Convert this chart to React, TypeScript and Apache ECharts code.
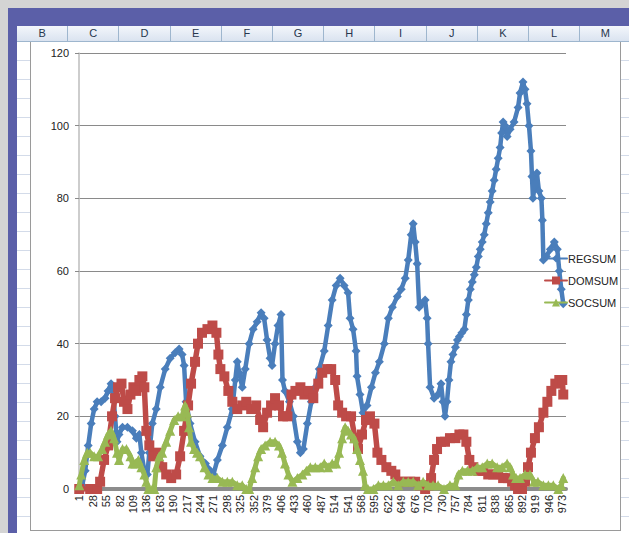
import { useEffect, useRef } from "react";
import * as echarts from "echarts";

// ---- data (category number -> value) ----
const CATEGORY_COUNT = 980;
const categories: string[] = Array.from({ length: CATEGORY_COUNT }, (_, i) => String(i + 1));

const regX = [1, 7, 13, 19, 25, 31, 37, 45, 53, 59, 65, 69, 73, 77, 81, 88, 98, 108, 116, 122, 126, 132, 138, 142, 148, 156, 164, 174, 184, 194, 202, 208, 212, 216, 224, 234, 244, 255, 265, 271, 279, 289, 299, 309, 315, 319, 323, 329, 335, 343, 351, 359, 367, 373, 379, 385, 389, 395, 401, 407, 410, 415, 424, 432, 440, 446, 452, 460, 468, 476, 484, 494, 502, 510, 518, 526, 534, 542, 546, 552, 558, 560, 566, 572, 580, 589, 597, 605, 615, 623, 631, 641, 649, 657, 663, 669, 673, 677, 681, 685, 691, 697, 701, 703, 707, 715, 723, 729, 733, 737, 741, 745, 749, 753, 758, 762, 766, 771, 776, 780, 784, 788, 792, 796, 800, 804, 808, 812, 816, 820, 824, 828, 832, 836, 840, 844, 848, 851, 854, 858, 862, 868, 876, 884, 888, 894, 898, 902, 906, 910, 912, 914, 918, 922, 926, 931, 933, 935, 941, 949, 957, 963, 967, 971, 975];
const regY = [0, 1, 5, 12, 18, 22, 24, 24, 25, 27, 29, 27, 20, 13, 15, 17, 17, 16, 14, 15, 10, 5, 4, 10, 18, 22, 28, 33, 36, 37.5, 38.5, 37, 34, 24, 18, 13, 9, 7, 5, 4, 8, 12, 17, 22, 30, 35, 32, 28, 33, 40, 44, 46, 48.5, 47, 41, 36, 34, 40, 45, 48, 30, 27, 24, 20, 13, 10, 11, 18, 24, 28, 33, 38, 45, 52, 56, 58, 56, 54, 47, 44, 38, 31, 26, 21, 23, 28, 32, 35, 40, 47, 50, 53, 55, 58, 63, 70, 73, 68, 62, 50, 51, 52, 47, 40, 28, 25, 26, 29, 24, 20, 24, 30, 35, 37, 39, 41, 42, 43, 44, 48, 52, 55, 57, 59, 61, 64, 66, 68, 70, 73, 76, 79, 82, 85, 88, 91, 94, 98, 101, 100, 97, 99, 101, 105, 109, 112, 110, 106, 100, 93, 86, 80, 84, 87, 82, 80, 74, 63, 64, 66, 68, 66, 60, 55, 51];

const domX = [1, 23, 37, 43, 51, 59, 67, 73, 79, 86, 91, 98, 104, 110, 116, 122, 128, 132, 136, 142, 150, 160, 168, 176, 186, 196, 204, 212, 220, 226, 234, 240, 248, 259, 269, 277, 281, 285, 293, 301, 309, 319, 329, 337, 347, 357, 365, 371, 379, 387, 395, 403, 411, 420, 428, 436, 446, 454, 462, 472, 482, 490, 500, 508, 516, 522, 530, 538, 548, 556, 562, 570, 578, 586, 595, 601, 609, 619, 629, 637, 647, 657, 667, 677, 687, 697, 703, 709, 715, 721, 729, 737, 747, 758, 766, 774, 780, 786, 794, 804, 814, 824, 834, 844, 854, 864, 872, 878, 884, 892, 898, 904, 910, 918, 926, 935, 943, 951, 959, 967, 973, 975];
const domY = [0, 0, 0, 2, 8, 12, 20, 25, 28, 29, 24, 22, 26, 28, 27, 30, 31, 28, 16, 12, 9, 10, 6, 4, 3, 4, 9, 16, 23, 29, 35, 40, 43, 44, 45, 43, 37, 33, 31, 27, 24, 22, 23, 24, 22, 23, 19, 17, 21, 23, 25, 23, 20, 20, 26, 27, 28, 26, 27, 25, 29, 32, 33, 33, 30, 23, 21, 20, 20, 14, 11, 15, 19, 20, 18, 10, 8, 6, 5, 4, 2, 2, 2, 2, 1, 0, 1, 3, 8, 11, 13, 13, 14, 14, 15, 15, 13, 8, 6, 5, 5, 4, 4, 4, 3, 3, 2, 1, 0, 0, 2, 6, 10, 14, 17, 21, 24, 27, 29, 30, 30, 26];

const socX = [1, 5, 11, 17, 23, 31, 39, 47, 53, 59, 65, 71, 77, 81, 88, 96, 104, 108, 114, 120, 126, 132, 136, 140, 148, 152, 156, 162, 168, 176, 184, 192, 200, 208, 214, 218, 222, 226, 232, 238, 244, 253, 261, 269, 279, 289, 299, 309, 319, 329, 337, 343, 349, 355, 361, 367, 375, 385, 395, 403, 409, 415, 422, 430, 440, 450, 458, 466, 476, 486, 494, 502, 510, 518, 524, 530, 536, 542, 548, 554, 560, 566, 572, 576, 582, 593, 603, 613, 623, 633, 643, 653, 663, 673, 683, 693, 703, 713, 723, 735, 747, 758, 764, 772, 782, 792, 802, 812, 822, 832, 842, 852, 862, 868, 874, 880, 888, 898, 908, 916, 924, 935, 945, 955, 965, 971, 975];
const socY = [1, 4, 8, 10, 10, 9, 9, 11, 13, 15, 16, 14, 10, 8, 11, 11, 9, 7, 7, 8, 6, 4, 2, 0, 0, 0, 6, 9, 10, 13, 16, 19, 20, 20, 23, 21, 17, 13, 11, 10, 9, 6, 4, 3, 3, 2, 2, 2, 1, 1, 0, 0, 3, 6, 9, 11, 12, 13, 13, 12, 10, 7, 4, 2, 3, 4, 5, 6, 6, 6, 7, 6, 7, 7, 10, 14, 17, 16, 15, 14, 11, 8, 5, 1, 0, 0, 1, 1, 1, 2, 1, 2, 2, 2, 1, 2, 1, 1, 1, 0, 1, 1, 4, 5, 5, 5, 6, 6, 7, 7, 6, 6, 7, 6, 4, 3, 3, 4, 4, 2, 2, 1, 1, 1, 0, 1, 3];

const yTicks = { min: 0, max: 120, interval: 20 };
const seriesNames = ["REGSUM", "DOMSUM", "SOCSUM"];
const seriesColors = ["#4a7ebb", "#be4b48", "#98b954"];
const seriesSymbols = ["diamond", "rect", "triangle"];
const columnLetters = ["B", "C", "D", "E", "F", "G", "H", "I", "J", "K", "L", "M"];

const FONT = "'Liberation Sans Narrow', 'Liberation Sans', Arial, sans-serif";

function pairs(xs: number[], ys: number[]) {
  return xs.map((x, i) => [x - 1, ys[i]]);
}

export default function App() {
  const ref = useRef<HTMLDivElement>(null);
  useEffect(() => {
    const chart = echarts.init(ref.current!, null, { renderer: "svg" });
    const datasets = [pairs(regX, regY), pairs(domX, domY), pairs(socX, socY)];
    const lineWidths = [4.5, 5.5, 5];
    const symbolSizes = [9, 10, 10];
    chart.setOption({
      animation: false,
      grid: { left: 79, right: 63, top: 53, bottom: 44, containLabel: false },
      legend: {
        orient: "vertical",
        left: 544,
        top: 253,
        itemWidth: 22,
        itemHeight: 10,
        itemGap: 11,
        padding: 0,
        data: seriesNames,
        textStyle: { fontFamily: FONT, fontSize: 11, color: "#222", padding: [0, 0, 0, -4] },
      },
      xAxis: {
        type: "category",
        data: categories,
        boundaryGap: true,
        axisLine: { show: true, lineStyle: { color: "#8c8c8c", width: 4 } },
        axisTick: { show: false },
        axisLabel: {
          interval: 26,
          rotate: 90,
          margin: 6,
          fontFamily: FONT,
          fontSize: 11,
          color: "#222",
        },
        splitLine: { show: false },
      },
      yAxis: {
        type: "value",
        min: yTicks.min,
        max: yTicks.max,
        interval: yTicks.interval,
        axisLine: { show: true, lineStyle: { color: "#bdbdbd", width: 1.5 } },
        axisTick: { show: true, length: 4, lineStyle: { color: "#8a8a8a" } },
        axisLabel: { margin: 10, fontFamily: FONT, fontSize: 11, color: "#222" },
        splitLine: { show: true, lineStyle: { color: "#8a8a8a", width: 1 } },
      },
      series: seriesNames.map((name, i) => ({
        name,
        type: "line",
        data: datasets[i],
        symbol: seriesSymbols[i],
        symbolSize: symbolSizes[i],
        showSymbol: true,
        showAllSymbol: true,
        lineStyle: { color: seriesColors[i], width: lineWidths[i], join: "round", cap: "round" },
        itemStyle: { color: seriesColors[i], borderWidth: 0 },
        emphasis: { disabled: true },
        z: 2 + i,
      })),
    });
    return () => chart.dispose();
  }, []);

  const colW = 51.2;
  return (
    <div
      style={{
        position: "fixed",
        left: 0,
        top: 0,
        width: 629,
        height: 533,
        background: "#d4d4d4",
        overflow: "hidden",
      }}
    >
      {/* purple window frame */}
      <div style={{ position: "absolute", left: 8, top: 8, width: 640, height: 540, background: "#5b5fa8" }} />
      {/* sheet cells */}
      <div
        style={{
          position: "absolute",
          left: 17,
          top: 42,
          width: 620,
          height: 500,
          background: "#ffffff",
          backgroundImage:
            "repeating-linear-gradient(to bottom, transparent 0px, transparent 18px, #d3dbe9 18px, #d3dbe9 19px)",
        }}
      />
      {/* chart area */}
      <div
        style={{
          position: "absolute",
          left: 30,
          top: 42,
          width: 591,
          height: 489,
          background: "#ffffff",
          borderLeft: "1px solid #9a9a9a",
          borderRight: "1px solid #9a9a9a",
          borderBottom: "1px solid #9a9a9a",
          boxSizing: "border-box",
        }}
      />
      {/* column header row */}
      <div
        style={{
          position: "absolute",
          left: 17,
          top: 26,
          width: 620,
          height: 16,
          background: "linear-gradient(#f3f6fb, #dae3f0)",
          borderBottom: "1px solid #9eb6ce",
          boxSizing: "border-box",
        }}
      >
        {columnLetters.map((c, i) => (
          <div
            key={c}
            style={{
              position: "absolute",
              left: i * colW,
              top: 0,
              width: colW,
              height: 15,
              borderRight: "1px solid #9eb6ce",
              boxSizing: "border-box",
              textAlign: "center",
              fontFamily: FONT,
              fontSize: 11,
              lineHeight: "15px",
              color: "#27364d",
            }}
          >
            {c}
          </div>
        ))}
      </div>
      <div ref={ref} style={{ position: "absolute", left: 0, top: 0, width: 629, height: 533 }} />
    </div>
  );
}
